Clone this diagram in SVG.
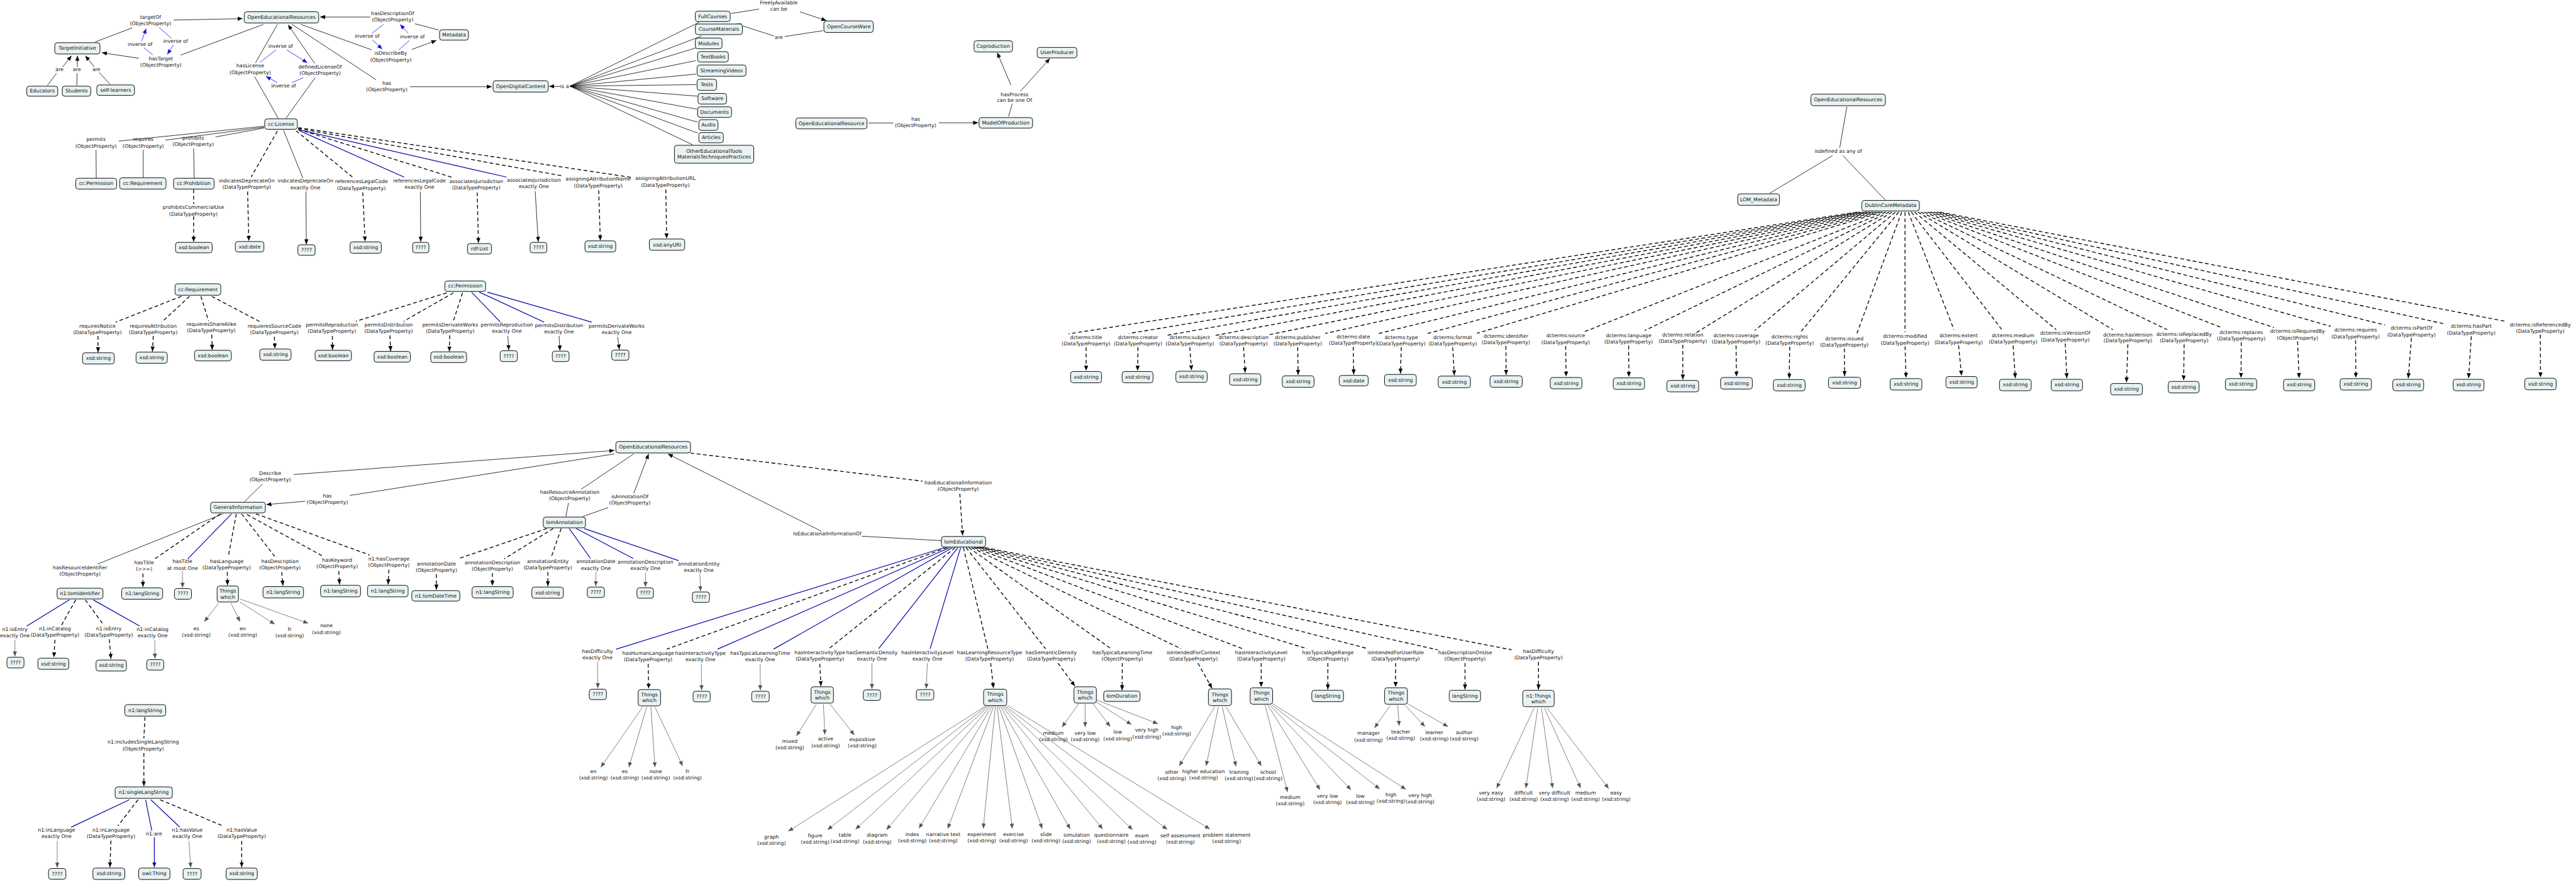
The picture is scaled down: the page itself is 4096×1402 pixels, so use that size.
<svg xmlns="http://www.w3.org/2000/svg" width="4096" height="1402" viewBox="0 0 4096 1402">
<style>
text{font-family:"DejaVu Sans","Liberation Sans",sans-serif;font-size:12px;text-anchor:middle;dominant-baseline:central;fill:#111}
.n rect{fill:#e8f2f2;stroke:#111;stroke-width:1.5}
.s{fill:none;stroke:#000;stroke-width:1.2}
.d{fill:none;stroke:#000;stroke-width:2;stroke-dasharray:9 6}
.u{fill:none;stroke:#0000a8;stroke-width:1.8}
.i{fill:none;stroke:#1414e6;stroke-width:1.2}
.g{fill:none;stroke:#555;stroke-width:1.1}
</style>
<defs>
<marker id="ab" viewBox="0 0 12 10" refX="12" refY="5" markerWidth="12" markerHeight="10" markerUnits="userSpaceOnUse" orient="auto"><path d="M0,0 L12,5 L0,10 z" fill="#000"/></marker>
<marker id="ag" viewBox="0 0 12 10" refX="12" refY="5" markerWidth="12" markerHeight="10" markerUnits="userSpaceOnUse" orient="auto"><path d="M0,0 L12,5 L0,10 z" fill="#555"/></marker>
<marker id="au" viewBox="0 0 12 10" refX="12" refY="5" markerWidth="12" markerHeight="10" markerUnits="userSpaceOnUse" orient="auto"><path d="M0,0 L12,5 L0,10 z" fill="#1414e6"/></marker>
<marker id="ad" viewBox="0 0 12 10" refX="12" refY="5" markerWidth="12" markerHeight="10" markerUnits="userSpaceOnUse" orient="auto"><path d="M0,0 L12,5 L0,10 z" fill="#0000a8"/></marker>
</defs>
<rect width="4096" height="1402" fill="#fff"/>
<g transform="scale(0.665)">
<g id="connectors">
<!-- cluster 1 -->
<path class="s" d="M415,48 L580,44.5" marker-end="url(#ab)"/>
<path class="s" d="M228,100 L316,66.7"/>
<path class="i" d="M365.5,131 L344.4,114.3"/>
<path class="i" d="M338.7,98.3 L349.5,68.3" marker-end="url(#au)"/>
<path class="i" d="M380.8,66 L410,91.7"/>
<path class="i" d="M414.6,107.3 L400,130" marker-end="url(#au)"/>
<path class="s" d="M630,58.3 L432,131.7"/>
<path class="s" d="M332,139.3 L243.6,126" marker-end="url(#ab)"/>
<path class="s" d="M113.5,204 L135.2,175"/>
<path class="s" d="M149.9,160 L171,133.3" marker-end="url(#ab)"/>
<path class="s" d="M183.7,204 L184.3,175"/>
<path class="s" d="M185,160 L185,133.3" marker-end="url(#ab)"/>
<path class="s" d="M263.4,201.7 L237.3,173.3"/>
<path class="s" d="M225.1,159.3 L204,133.3" marker-end="url(#ab)"/>
<path class="s" d="M663.3,58.3 L611,150"/>
<path class="s" d="M609,183.3 L665.2,282.7"/>
<path class="s" d="M752.6,151.7 L688.8,59.3" marker-end="url(#ab)"/>
<path class="s" d="M753.9,185.3 L683.7,282.7"/>
<path class="i" d="M621.9,149 L660,119.3"/>
<path class="i" d="M685.6,119.3 L734.8,150" marker-end="url(#au)"/>
<path class="i" d="M725.2,185.7 L698.4,197.3"/>
<path class="i" d="M663.3,197.3 L635.9,182.7" marker-end="url(#au)"/>
<path class="s" d="M885.3,40.7 L765.4,40.7" marker-end="url(#ab)"/>
<path class="s" d="M991.8,56.7 L1048.8,71.7"/>
<path class="s" d="M719.4,58.3 L888.5,119"/>
<path class="s" d="M985,118 L1043.4,96.7" marker-end="url(#ab)"/>
<path class="i" d="M917.2,58.3 L889.7,79"/>
<path class="i" d="M889.7,95 L914,117.3" marker-end="url(#au)"/>
<path class="i" d="M953.5,119.3 L979,96.7"/>
<path class="i" d="M975.8,79.3 L956.7,58.3" marker-end="url(#au)"/>
<path class="s" d="M698.4,58.3 L899.3,190.7"/>
<path class="s" d="M980.3,207.3 L1176,207.3" marker-end="url(#ab)"/>
<path class="s" d="M1340,206.5 L1313,206.5" marker-end="url(#ab)"/>
<path class="s" d="M1363,206 L1672,53"/>
<path class="s" d="M1363,206 L1677.6,86"/>
<path class="s" d="M1363,206 L1662.5,115"/>
<path class="s" d="M1363,206 L1663.5,145"/>
<path class="s" d="M1363,206 L1664.6,177"/>
<path class="s" d="M1363,206 L1664.6,202.3"/>
<path class="s" d="M1363,206 L1669,230"/>
<path class="s" d="M1363,206 L1667,261"/>
<path class="s" d="M1363,206 L1668,292"/>
<path class="s" d="M1363,206 L1668,318"/>
<path class="s" d="M1363,206 L1656,346"/>
<path class="s" d="M1748,32.3 L1815.3,21.7"/>
<path class="s" d="M1913,28.3 L1975.8,49.3" marker-end="url(#ab)"/>
<path class="s" d="M1968,73.3 L1876,87.3"/>
<path class="s" d="M1851,86 L1760,57" marker-end="url(#ab)"/>
<path class="s" d="M2411.6,278.3 L2420.3,248.3"/>
<path class="s" d="M2417,203.3 L2384.5,126" marker-end="url(#ab)"/>
<path class="s" d="M2439.8,218.3 L2510.3,140" marker-end="url(#ab)"/>
<path class="s" d="M2076.6,294 L2136.3,294"/>
<path class="s" d="M2244.7,293.5 L2339,293.5" marker-end="url(#ab)"/>
<!-- cc:License -->
<path class="s" d="M631.4,301.7 L283.8,337.3"/>
<path class="s" d="M631.4,304 L395.4,335"/>
<path class="s" d="M631.4,306 L515.4,327.3"/>
<path class="s" d="M229.6,358.3 L230.2,426"/>
<path class="s" d="M342.5,358.3 L342.5,425"/>
<path class="s" d="M463,355 L464.3,426"/>
<path class="d" d="M463,453 L463,488"/>
<path class="d" d="M463,517 L463,578" marker-end="url(#ab)"/>
<path class="d" d="M663.3,313.3 L600.8,422.7"/>
<path class="d" d="M592,458 L595,576" marker-end="url(#ab)"/>
<path class="s" d="M678,311.7 L724,425"/>
<path class="s" d="M731.5,458 L732.5,584" marker-end="url(#ab)"/>
<path class="d" d="M708,312.7 L845,425"/>
<path class="d" d="M867.4,460 L873,577" marker-end="url(#ab)"/>
<path class="u" d="M714.3,311.7 L966.3,423.3"/>
<path class="s" d="M1005,458 L1006,578" marker-end="url(#ab)"/>
<path class="d" d="M713,309 L1084.6,425"/>
<path class="d" d="M1141,460 L1144,581" marker-end="url(#ab)"/>
<path class="u" d="M714,310 L1211.4,423.3"/>
<path class="s" d="M1279.7,457 L1287,578" marker-end="url(#ab)"/>
<path class="d" d="M713,307 L1347,420.7"/>
<path class="d" d="M1431.5,455 L1435.5,575" marker-end="url(#ab)"/>
<path class="d" d="M713,305 L1509.6,424"/>
<path class="d" d="M1592,453 L1594,570" marker-end="url(#ab)"/>
<!-- Requirement / Permission -->
<path class="d" d="M433.7,708.3 L276.5,770"/>
<path class="d" d="M234.2,803 L234.5,842" marker-end="url(#ab)"/>
<path class="d" d="M453.2,708.3 L387,770"/>
<path class="d" d="M366.5,803 L364.5,840" marker-end="url(#ab)"/>
<path class="d" d="M480.3,708.3 L498.7,767"/>
<path class="d" d="M506.3,800 L507.5,836" marker-end="url(#ab)"/>
<path class="d" d="M506.3,708.3 L623.4,770"/>
<path class="d" d="M656,805 L657.5,833" marker-end="url(#ab)"/>
<path class="d" d="M1068,700 L851,768"/>
<path class="d" d="M794.7,803 L795,836" marker-end="url(#ab)"/>
<path class="d" d="M1084.2,700 L965,768"/>
<path class="d" d="M932.4,801.7 L934,839" marker-end="url(#ab)"/>
<path class="d" d="M1105.9,700 L1084.2,767"/>
<path class="d" d="M1075.5,801.7 L1074.4,840" marker-end="url(#ab)"/>
<path class="u" d="M1127.6,698.3 L1195.9,769.3"/>
<path class="s" d="M1214.3,803 L1216.5,837" marker-end="url(#ab)"/>
<path class="u" d="M1146,698.3 L1301,770"/>
<path class="s" d="M1336.8,803 L1339,838" marker-end="url(#ab)"/>
<path class="u" d="M1165.5,698.3 L1414.8,770"/>
<path class="s" d="M1476.7,805 L1481,835.5" marker-end="url(#ab)"/>
<!-- Dublin Core -->
<path class="s" d="M4416,255 L4399,353"/>
<path class="s" d="M4381.5,372 L4231.5,462"/>
<path class="s" d="M4406.5,372 L4508,478"/>
<path class="d" d="M4440,507 L2555,798"/>
<path class="d" d="M4447,507 L2700,797"/>
<path class="d" d="M4455,507 L2789,801.7"/>
<path class="d" d="M4463,507 L2906.5,801.7"/>
<path class="d" d="M4470,507 L3035,800"/>
<path class="d" d="M4478,507 L3169,797"/>
<path class="d" d="M4486,507 L3297,797"/>
<path class="d" d="M4494,507 L3414,797"/>
<path class="d" d="M4501,507 L3531.5,796.7"/>
<path class="d" d="M4509,507 L3788,793"/>
<path class="d" d="M4517,507 L3933,790"/>
<path class="d" d="M4524,507 L4056,795"/>
<path class="d" d="M4532,507 L4196,790"/>
<path class="d" d="M4540,507 L4307,792"/>
<path class="d" d="M4547,507 L4440,797"/>
<path class="d" d="M4555,507 L4555,794"/>
<path class="d" d="M4563,507 L4672,788"/>
<path class="d" d="M4570,507 L4786,787"/>
<path class="d" d="M4578,507 L4916.5,788"/>
<path class="d" d="M4586,507 L5052,788"/>
<path class="d" d="M4593,507 L5182,788"/>
<path class="d" d="M4601,507 L5312,783"/>
<path class="d" d="M4609,507 L5437,783"/>
<path class="d" d="M4616,507 L5573,780"/>
<path class="d" d="M4624,507 L5703,777"/>
<path class="d" d="M4632,507 L5844,774"/>
<path class="d" d="M4639,507 L5990,768"/>
<path class="d" d="M2597,830 L2597,886" marker-end="url(#ab)"/>
<path class="d" d="M2721,830 L2720,886" marker-end="url(#ab)"/>
<path class="d" d="M2845,830 L2849,885" marker-end="url(#ab)"/>
<path class="d" d="M2973.4,830 L2977.4,891" marker-end="url(#ab)"/>
<path class="d" d="M3102.9,830 L3104,896" marker-end="url(#ab)"/>
<path class="d" d="M3235.7,829 L3236.8,895" marker-end="url(#ab)"/>
<path class="d" d="M3350.7,830 L3348.5,893" marker-end="url(#ab)"/>
<path class="d" d="M3473.5,830 L3477.4,897" marker-end="url(#ab)"/>
<path class="d" d="M3600.7,827 L3601.3,896" marker-end="url(#ab)"/>
<path class="d" d="M3743.6,827 L3744.7,900" marker-end="url(#ab)"/>
<path class="d" d="M3894.2,826 L3894.8,901" marker-end="url(#ab)"/>
<path class="d" d="M4023.7,824 L4023.7,907" marker-end="url(#ab)"/>
<path class="d" d="M4151,826 L4152,900" marker-end="url(#ab)"/>
<path class="d" d="M4279.3,829 L4278.2,905" marker-end="url(#ab)"/>
<path class="d" d="M4409.9,833 L4410.5,899" marker-end="url(#ab)"/>
<path class="d" d="M4555.2,828 L4557.4,903" marker-end="url(#ab)"/>
<path class="d" d="M4683.2,826 L4690.3,898" marker-end="url(#ab)"/>
<path class="d" d="M4813.4,826 L4818.9,904" marker-end="url(#ab)"/>
<path class="d" d="M4938.2,821 L4942,904" marker-end="url(#ab)"/>
<path class="d" d="M5087.9,823 L5084.6,914" marker-end="url(#ab)"/>
<path class="d" d="M5222.4,823 L5221.3,909" marker-end="url(#ab)"/>
<path class="d" d="M5359,818 L5358.5,903" marker-end="url(#ab)"/>
<path class="d" d="M5493.6,816 L5497.4,904" marker-end="url(#ab)"/>
<path class="d" d="M5632.4,813 L5633,903" marker-end="url(#ab)"/>
<path class="d" d="M5765.9,808 L5758.3,904" marker-end="url(#ab)"/>
<path class="d" d="M5909,804 L5902.5,904" marker-end="url(#ab)"/>
<path class="d" d="M6074,800 L6074.5,902" marker-end="url(#ab)"/>
<!-- bottom cluster -->
<path class="s" d="M702,1134.3 L1469,1076.7" marker-end="url(#ab)"/>
<path class="s" d="M627.6,1156.7 L584.7,1199"/>
<path class="s" d="M1469.4,1085 L836.7,1184.3"/>
<path class="s" d="M729.6,1198.3 L637,1206" marker-end="url(#ab)"/>
<path class="s" d="M1515.3,1085 L1389.8,1169.3"/>
<path class="s" d="M1359.2,1202.3 L1353,1235"/>
<path class="s" d="M1515.3,1179.3 L1551,1085" marker-end="url(#ab)"/>
<path class="s" d="M1392.9,1235 L1454,1213.3"/>
<path class="s" d="M2251,1292.3 L2060.7,1281.7"/>
<path class="s" d="M1964.3,1270 L1597,1085" marker-end="url(#ab)"/>
<path class="d" d="M1651,1083 L2205.4,1150"/>
<path class="d" d="M2295,1180 L2301.8,1280" marker-end="url(#ab)"/>
<path class="s" d="M533.2,1228.3 L233.4,1348.3"/>
<path class="d" d="M526.8,1228.3 L369.9,1336"/>
<path class="d" d="M341.8,1371 L341.8,1403" marker-end="url(#ab)"/>
<path class="u" d="M553.6,1228.3 L449,1336"/>
<path class="g" d="M436.2,1365 L436.5,1405" marker-end="url(#ag)"/>
<path class="d" d="M565,1228.3 L546,1330"/>
<path class="d" d="M543.4,1367.3 L544,1399" marker-end="url(#ab)"/>
<path class="d" d="M577.8,1228.3 L656.9,1330"/>
<path class="d" d="M673.5,1367.3 L676.5,1400" marker-end="url(#ab)"/>
<path class="d" d="M590.6,1230 L771.7,1329.3"/>
<path class="d" d="M810,1365 L812,1397" marker-end="url(#ab)"/>
<path class="d" d="M612.2,1228.3 L884,1326.7"/>
<path class="d" d="M929.8,1361.7 L928,1397" marker-end="url(#ab)"/>
<path class="g" d="M523,1441.7 L488.5,1486" marker-end="url(#ag)"/>
<path class="g" d="M552.3,1441.7 L574,1486" marker-end="url(#ag)"/>
<path class="g" d="M572.7,1438.3 L657,1492" marker-end="url(#ag)"/>
<path class="g" d="M574,1431.7 L737,1490" marker-end="url(#ag)"/>
<path class="u" d="M165.8,1434 L63.8,1496.7"/>
<path class="g" d="M35.7,1529.3 L35.7,1569" marker-end="url(#ag)"/>
<path class="d" d="M181.1,1434 L146.7,1495"/>
<path class="d" d="M131.4,1529.3 L128.8,1571" marker-end="url(#ab)"/>
<path class="d" d="M204,1434 L248.7,1495"/>
<path class="d" d="M261.5,1528.3 L265.3,1575" marker-end="url(#ab)"/>
<path class="u" d="M223.2,1434 L334.2,1496.7"/>
<path class="g" d="M370,1530 L370.5,1574.5" marker-end="url(#ag)"/>
<path class="d" d="M1307.4,1263.3 L1094.4,1336"/>
<path class="d" d="M1043.4,1372.7 L1043.4,1409.5" marker-end="url(#ab)"/>
<path class="d" d="M1322.7,1263.3 L1205.4,1336"/>
<path class="d" d="M1177.3,1370 L1177.3,1400" marker-end="url(#ab)"/>
<path class="d" d="M1341.8,1263.3 L1317.6,1333.3"/>
<path class="d" d="M1310,1367.3 L1310,1401" marker-end="url(#ab)"/>
<path class="u" d="M1361,1263.3 L1412,1335"/>
<path class="g" d="M1424.7,1367.3 L1424.7,1401" marker-end="url(#ag)"/>
<path class="u" d="M1377.5,1263.3 L1514,1335"/>
<path class="g" d="M1543.4,1369.3 L1543.4,1403" marker-end="url(#ag)"/>
<path class="u" d="M1396.7,1263.3 L1622.5,1340"/>
<path class="g" d="M1673.5,1372.7 L1675,1413" marker-end="url(#ag)"/>
<!-- lomEducational -->
<path class="u" d="M2258,1309 L1473.2,1551.7"/>
<path class="d" d="M2264.5,1309 L1594.4,1551.7"/>
<path class="u" d="M2271,1309 L1715.6,1551.7"/>
<path class="u" d="M2277.5,1309 L1849.5,1551.7"/>
<path class="d" d="M2284,1309 L1980.4,1551.7"/>
<path class="u" d="M2290.5,1309 L2100.9,1550.7"/>
<path class="u" d="M2297,1309 L2224,1550.7"/>
<path class="d" d="M2303.5,1309 L2362,1550.7"/>
<path class="d" d="M2310,1309 L2500,1550.7"/>
<path class="d" d="M2316.5,1309 L2656.7,1550.7"/>
<path class="d" d="M2323,1309 L2824,1550.7"/>
<path class="d" d="M2329.5,1309 L2971.4,1550.7"/>
<path class="d" d="M2336,1309 L3125.5,1550.7"/>
<path class="d" d="M2342.5,1309 L3266,1549.3"/>
<path class="d" d="M2349,1309 L3437.5,1553.3"/>
<path class="d" d="M2355.5,1309 L3614.3,1553.3"/>
<path class="g" d="M1428.6,1582 L1429.5,1645" marker-end="url(#ag)"/>
<path class="d" d="M1549.8,1587 L1551,1646" marker-end="url(#ab)"/>
<path class="g" d="M1677,1587 L1677.5,1650" marker-end="url(#ag)"/>
<path class="g" d="M1817.6,1587 L1818,1650" marker-end="url(#ag)"/>
<path class="d" d="M1960.3,1587 L1963,1640" marker-end="url(#ab)"/>
<path class="g" d="M2084.8,1585 L2084.8,1647" marker-end="url(#ag)"/>
<path class="g" d="M2217.4,1585 L2214.7,1646" marker-end="url(#ag)"/>
<path class="d" d="M2368.8,1585 L2375.5,1645" marker-end="url(#ab)"/>
<path class="d" d="M2529.5,1585 L2570,1640" marker-end="url(#ab)"/>
<path class="d" d="M2683.5,1585 L2683,1650" marker-end="url(#ab)"/>
<path class="d" d="M2864.3,1585 L2898,1645" marker-end="url(#ab)"/>
<path class="d" d="M3015.6,1585 L3015.6,1642" marker-end="url(#ab)"/>
<path class="d" d="M3175,1585 L3175,1648" marker-end="url(#ab)"/>
<path class="d" d="M3337,1585 L3337,1642" marker-end="url(#ab)"/>
<path class="d" d="M3503,1585 L3503,1648" marker-end="url(#ab)"/>
<path class="d" d="M3678.6,1582 L3678.6,1648" marker-end="url(#ab)"/>
<path class="g" d="M1536.6,1690 L1436.6,1834" marker-end="url(#ag)"/>
<path class="g" d="M1546.4,1690 L1503.6,1834" marker-end="url(#ag)"/>
<path class="g" d="M1556.3,1690 L1566.1,1834" marker-end="url(#ag)"/>
<path class="g" d="M1566.1,1690 L1632.2,1831" marker-end="url(#ag)"/>
<path class="g" d="M1951.8,1683.3 L1904.5,1759" marker-end="url(#ag)"/>
<path class="g" d="M1968.8,1683.3 L1972.4,1756" marker-end="url(#ag)"/>
<path class="g" d="M1984.8,1683.3 L2042.9,1757" marker-end="url(#ag)"/>
<path class="g" d="M2356,1688 L1884.8,1987" marker-end="url(#ag)"/>
<path class="g" d="M2360,1688 L1978.6,1983.3" marker-end="url(#ag)"/>
<path class="g" d="M2364,1688 L2045.6,1982.3" marker-end="url(#ag)"/>
<path class="g" d="M2368,1688 L2119.7,1983.3" marker-end="url(#ag)"/>
<path class="g" d="M2372,1688 L2197.4,1980" marker-end="url(#ag)"/>
<path class="g" d="M2376,1688 L2266.1,1980.7" marker-end="url(#ag)"/>
<path class="g" d="M2380,1688 L2351,1980.7" marker-end="url(#ag)"/>
<path class="g" d="M2384,1688 L2420.6,1980.7" marker-end="url(#ag)"/>
<path class="g" d="M2388,1688 L2492,1980.7" marker-end="url(#ag)"/>
<path class="g" d="M2392,1688 L2559,1981.7" marker-end="url(#ag)"/>
<path class="g" d="M2396,1688 L2636.7,1981.7" marker-end="url(#ag)"/>
<path class="g" d="M2400,1688 L2708,1983.3" marker-end="url(#ag)"/>
<path class="g" d="M2404,1688 L2791,1982.7" marker-end="url(#ag)"/>
<path class="g" d="M2408,1686 L2892.9,1981.7" marker-end="url(#ag)"/>
<path class="g" d="M2578.6,1683 L2539.4,1738" marker-end="url(#ag)"/>
<path class="g" d="M2594.7,1683 L2594.7,1738" marker-end="url(#ag)"/>
<path class="g" d="M2614.3,1683 L2654.5,1737" marker-end="url(#ag)"/>
<path class="g" d="M2621,1678 L2705.4,1732" marker-end="url(#ag)"/>
<path class="g" d="M2621,1673 L2768.8,1730" marker-end="url(#ag)"/>
<path class="g" d="M2904.5,1689.3 L2819.7,1831" marker-end="url(#ag)"/>
<path class="g" d="M2913.4,1689.3 L2883.9,1831" marker-end="url(#ag)"/>
<path class="g" d="M2922.3,1689.3 L2955.4,1832" marker-end="url(#ag)"/>
<path class="g" d="M2931.3,1689.3 L3016.1,1831" marker-end="url(#ag)"/>
<path class="g" d="M3025,1686 L3078.6,1893" marker-end="url(#ag)"/>
<path class="g" d="M3032,1686 L3156.3,1888" marker-end="url(#ag)"/>
<path class="g" d="M3037,1686 L3230.4,1888" marker-end="url(#ag)"/>
<path class="g" d="M3041,1685 L3299.1,1886" marker-end="url(#ag)"/>
<path class="g" d="M3043,1682 L3361.6,1887" marker-end="url(#ag)"/>
<path class="g" d="M3324.1,1686 L3286.6,1740" marker-end="url(#ag)"/>
<path class="g" d="M3342,1686 L3345.6,1735" marker-end="url(#ag)"/>
<path class="g" d="M3359.9,1686 L3407.2,1737" marker-end="url(#ag)"/>
<path class="g" d="M3365,1681.7 L3462.5,1737" marker-end="url(#ag)"/>
<path class="g" d="M3668,1692.7 L3578.6,1884" marker-end="url(#ag)"/>
<path class="g" d="M3676.9,1692.7 L3648.3,1884" marker-end="url(#ag)"/>
<path class="g" d="M3685.8,1692.7 L3712.5,1884" marker-end="url(#ag)"/>
<path class="g" d="M3692.9,1692.7 L3779.5,1884" marker-end="url(#ag)"/>
<path class="g" d="M3699.2,1692.7 L3846.5,1885" marker-end="url(#ag)"/>
<!-- langString cluster -->
<path class="d" d="M346.6,1714 L344,1765"/>
<path class="d" d="M344,1800 L344,1879" marker-end="url(#ab)"/>
<path class="u" d="M309.3,1911.7 L170,1977.3"/>
<path class="g" d="M136.8,2009.3 L136.8,2074" marker-end="url(#ag)"/>
<path class="d" d="M330,1911.7 L282,1974"/>
<path class="d" d="M265.3,2009.3 L262.8,2073" marker-end="url(#ab)"/>
<path class="u" d="M348.2,1911.7 L363.1,1986"/>
<path class="u" d="M369,2001 L369,2073" marker-end="url(#ad)"/>
<path class="u" d="M360.7,1911.7 L429.5,1976.7"/>
<path class="g" d="M451.9,2010 L456,2074" marker-end="url(#ag)"/>
<path class="d" d="M383,1911.7 L534.8,1975"/>
<path class="d" d="M577.9,2010 L577.9,2073" marker-end="url(#ab)"/>
</g>
<g id="edge-labels">
<text x="360" y="40.7">targetOf<tspan x="360" dy="15">(ObjectProperty)</tspan></text>
<text x="384.6" y="140">hasTarget<tspan x="384.6" dy="14.5">(ObjectProperty)</tspan></text>
<text x="334.8" y="106">inverse of</text>
<text x="419.7" y="99">inverse of</text>
<text x="142.2" y="166.7">are</text>
<text x="183.7" y="166.7">are</text>
<text x="230.2" y="166">are</text>
<text x="598.3" y="157.7">hasLicense<tspan x="598.3" dy="15">(ObjectProperty)</tspan></text>
<text x="765.4" y="160">definedLicenseOf<tspan x="765.4" dy="14.5">(ObjectProperty)</tspan></text>
<text x="671" y="111">inverse of</text>
<text x="678" y="205">inverse of</text>
<text x="938.9" y="32">hasDescriptionOf<tspan x="938.9" dy="14.7">(ObjectProperty)</tspan></text>
<text x="934.4" y="127.7">isDescribeBy<tspan x="934.4" dy="15">(ObjectProperty)</tspan></text>
<text x="878" y="86">inverse of</text>
<text x="986" y="88">inverse of</text>
<text x="924.8" y="199">has<tspan x="924.8" dy="14.5">(ObjectProperty)</tspan></text>
<text x="1350" y="206.7">is a</text>
<text x="1862" y="7">FreelyAvailable<tspan x="1862" dy="14.5">can be</tspan></text>
<text x="1862" y="89.3">are</text>
<text x="2425.7" y="225.7">hasProcess<tspan x="2425.7" dy="14">can be one Of</tspan></text>
<text x="2189.4" y="284.3">has<tspan x="2189.4" dy="14.7">(ObjectProperty)</tspan></text>
<text x="229.6" y="333.7">permits<tspan x="229.6" dy="14.6">(ObjectProperty)</tspan></text>
<text x="342.5" y="333.7">requires<tspan x="342.5" dy="14.6">(ObjectProperty)</tspan></text>
<text x="461.8" y="330">prohibits<tspan x="461.8" dy="14.7">(ObjectProperty)</tspan></text>
<text x="462.4" y="496">prohibitsCommercialUse<tspan x="462.4" dy="14.7">(DataTypeProperty)</tspan></text>
<text x="590" y="432">indicatesDeprecateOn<tspan x="590" dy="14.7">(DataTypeProperty)</tspan></text>
<text x="730.3" y="432.7">indicatesDeprecateOn<tspan x="730.3" dy="15">exactly One</tspan></text>
<text x="864.2" y="434">referencesLegalCode<tspan x="864.2" dy="15">(DataTypeProperty)</tspan></text>
<text x="1003" y="432">referencesLegalCode<tspan x="1003" dy="14.7">exactly One</tspan></text>
<text x="1138.8" y="433.3">associatesJurisdiction<tspan x="1138.8" dy="14.4">(DataTypeProperty)</tspan></text>
<text x="1276.5" y="431">associatesJurisdiction<tspan x="1276.5" dy="14.7">exactly One</tspan></text>
<text x="1430.4" y="428.3">assigningAttributionName<tspan x="1430.4" dy="15">(DataTypeProperty)</tspan></text>
<text x="1590.9" y="426.7">assigningAttributionURL<tspan x="1590.9" dy="15.3">(DataTypeProperty)</tspan></text>
<text x="233.1" y="779">requiresNotice<tspan x="233.1" dy="14.3">(DataTypeProperty)</tspan></text>
<text x="366.5" y="779">requiresAttribution<tspan x="366.5" dy="14.3">(DataTypeProperty)</tspan></text>
<text x="505.2" y="775">requieresShareAlike<tspan x="505.2" dy="15">(DataTypeProperty)</tspan></text>
<text x="656" y="779">requieresSourceCode<tspan x="656" dy="14.3">(DataTypeProperty)</tspan></text>
<text x="793.6" y="776.7">permitsReproduction<tspan x="793.6" dy="15">(DataTypeProperty)</tspan></text>
<text x="929.2" y="776">permitsDistribution<tspan x="929.2" dy="15">(DataTypeProperty)</tspan></text>
<text x="1076.6" y="776">permitsDerivateWorks<tspan x="1076.6" dy="15">(DataTypeProperty)</tspan></text>
<text x="1212" y="776.7">permitsReproduction<tspan x="1212" dy="15">exactly One</tspan></text>
<text x="1336.8" y="777.7">permitsDistribution<tspan x="1336.8" dy="15">exactly One</tspan></text>
<text x="1474.5" y="779">permitsDerivateWorks<tspan x="1474.5" dy="14.3">exactly One</tspan></text>
<text x="4395.6" y="361.7">isdefined as any of</text>
<text x="2597" y="806.7">dcterms:title<tspan x="2597" dy="14.3">(DataTypeProperty)</tspan></text>
<text x="2721" y="806.7">dcterms:creator<tspan x="2721" dy="14.3">(DataTypeProperty)</tspan></text>
<text x="2845" y="806.7">dcterms:subject<tspan x="2845" dy="14">(DataTypeProperty)</tspan></text>
<text x="2973.4" y="806.7">dcterms:description<tspan x="2973.4" dy="14">(DataTypeProperty)</tspan></text>
<text x="3102.9" y="806.7">dcterms:publisher<tspan x="3102.9" dy="14">(DataTypeProperty)</tspan></text>
<text x="3235.7" y="805.7">dcterms:date<tspan x="3235.7" dy="14.3">(DataTypeProperty)</tspan></text>
<text x="3350.7" y="806.7">dcterms:type<tspan x="3350.7" dy="14">(DataTypeProperty)</tspan></text>
<text x="3473.5" y="807.3">dcterms:format<tspan x="3473.5" dy="13.7">(DataTypeProperty)</tspan></text>
<text x="3600.7" y="803.3">dcterms:identifier<tspan x="3600.7" dy="15">(DataTypeProperty)</tspan></text>
<text x="3743.6" y="802.3">dcterms:source<tspan x="3743.6" dy="15.4">(DataTypeProperty)</tspan></text>
<text x="3894.2" y="801.7">dcterms:language<tspan x="3894.2" dy="15">(DataTypeProperty)</tspan></text>
<text x="4023.7" y="800">dcterms:relation<tspan x="4023.7" dy="15">(DataTypeProperty)</tspan></text>
<text x="4151" y="801.7">dcterms:coverage<tspan x="4151" dy="15">(DataTypeProperty)</tspan></text>
<text x="4279.3" y="805">dcterms:rights<tspan x="4279.3" dy="15">(DataTypeProperty)</tspan></text>
<text x="4409.9" y="809.3">dcterms:issued<tspan x="4409.9" dy="14.7">(DataTypeProperty)</tspan></text>
<text x="4555.2" y="804">dcterms:modified<tspan x="4555.2" dy="15.3">(DataTypeProperty)</tspan></text>
<text x="4683.2" y="801.7">dcterms:extent<tspan x="4683.2" dy="15.6">(DataTypeProperty)</tspan></text>
<text x="4813.4" y="801.7">dcterms:medium<tspan x="4813.4" dy="15">(DataTypeProperty)</tspan></text>
<text x="4938.2" y="796.7">dcterms:isVersionOf<tspan x="4938.2" dy="15">(DataTypeProperty)</tspan></text>
<text x="5087.9" y="800">dcterms:hasVersion<tspan x="5087.9" dy="14">(DataTypeProperty)</tspan></text>
<text x="5222.4" y="799">dcterms:isReplacedBy<tspan x="5222.4" dy="15">(DataTypeProperty)</tspan></text>
<text x="5359" y="794.3">dcterms:replaces<tspan x="5359" dy="14.7">(DataTypeProperty)</tspan></text>
<text x="5493.6" y="792.3">dcterms:isRequiredBy<tspan x="5493.6" dy="15">(ObjectProperty)</tspan></text>
<text x="5632.4" y="789.3">dcterms:requires<tspan x="5632.4" dy="14.7">(DataTypeProperty)</tspan></text>
<text x="5765.9" y="784.3">dcterms:isPartOf<tspan x="5765.9" dy="15">(DataTypeProperty)</tspan></text>
<text x="5909" y="780">dcterms:hasPart<tspan x="5909" dy="15">(DataTypeProperty)</tspan></text>
<text x="6074" y="776.7">dcterms:isReferencedBy<tspan x="6074" dy="14.3">(DataTypeProperty)</tspan></text>
<text x="646" y="1131">Describe<tspan x="646" dy="15">(ObjectProperty)</tspan></text>
<text x="782.7" y="1185.7">has<tspan x="782.7" dy="14.3">(ObjectProperty)</tspan></text>
<text x="1362.2" y="1177.3">hasResourceAnnotation<tspan x="1362.2" dy="14.4">(ObjectProperty)</tspan></text>
<text x="1506" y="1187.3">isAnnotationOf<tspan x="1506" dy="14.4">(ObjectProperty)</tspan></text>
<text x="1978" y="1276">IsEducationalInformationOf</text>
<text x="2291" y="1154">hasEducationalInformation<tspan x="2291" dy="15">(ObjectProperty)</tspan></text>
<text x="191.3" y="1356.7">hasResourceIdentifier<tspan x="191.3" dy="14">(ObjectProperty)</tspan></text>
<text x="344.4" y="1345">hasTitle<tspan x="344.4" dy="15">(&gt;&gt;=)</tspan></text>
<text x="436.2" y="1342.7">hasTitle<tspan x="436.2" dy="15">at most One</tspan></text>
<text x="542.1" y="1341.7">hasLanguage<tspan x="542.1" dy="15">(DataTypeProperty)</tspan></text>
<text x="669.6" y="1341.7">hasDescription<tspan x="669.6" dy="15">(ObjectProperty)</tspan></text>
<text x="806.1" y="1339.3">hasKeyword<tspan x="806.1" dy="14.7">(ObjectProperty)</tspan></text>
<text x="929.8" y="1336.7">n1:hasCoverage<tspan x="929.8" dy="14">(ObjectProperty)</tspan></text>
<text x="469.4" y="1503.3">es<tspan x="469.4" dy="14.4">(xsd:string)</tspan></text>
<text x="580.4" y="1503.3">en<tspan x="580.4" dy="14.4">(xsd:string)</tspan></text>
<text x="692.6" y="1504.3">fr<tspan x="692.6" dy="14.4">(xsd:string)</tspan></text>
<text x="780.6" y="1496">none<tspan x="780.6" dy="14.7">(xsd:string)</tspan></text>
<text x="35.7" y="1505">n1:isEntry<tspan x="35.7" dy="14.3">exactly One</tspan></text>
<text x="131.4" y="1503.3">n1:inCatalog<tspan x="131.4" dy="14.4">(DataTypeProperty)</tspan></text>
<text x="260.2" y="1503.3">n1:isEntry<tspan x="260.2" dy="14.4">(DataTypeProperty)</tspan></text>
<text x="364.8" y="1505">n1:inCatalog<tspan x="364.8" dy="14.3">exactly One</tspan></text>
<text x="1043.4" y="1348.3">annotationDate<tspan x="1043.4" dy="14.4">(ObjectProperty)</tspan></text>
<text x="1177.3" y="1345">annotationDescription<tspan x="1177.3" dy="14.3">(ObjectProperty)</tspan></text>
<text x="1310" y="1341.7">annotationEntity<tspan x="1310" dy="15">(DataTypeProperty)</tspan></text>
<text x="1424.7" y="1342.7">annotationDate<tspan x="1424.7" dy="15">exactly One</tspan></text>
<text x="1543.4" y="1343.3">annotationDescription<tspan x="1543.4" dy="14.4">exactly One</tspan></text>
<text x="1671" y="1348.3">annotationEntity<tspan x="1671" dy="14.4">exactly One</tspan></text>
<text x="1428.6" y="1556.7">hasDifficulty<tspan x="1428.6" dy="14">exactly One</tspan></text>
<text x="1549.8" y="1561.7">hasHumanLanguage<tspan x="1549.8" dy="14">(DataTypeProperty)</tspan></text>
<text x="1674.8" y="1561.7">hasInteractivityType<tspan x="1674.8" dy="14">exactly One</tspan></text>
<text x="1817.6" y="1561.7">hasTypicalLearningTime<tspan x="1817.6" dy="14">exactly One</tspan></text>
<text x="1960.3" y="1560">hasInteractivityType<tspan x="1960.3" dy="14.3">(DataTypeProperty)</tspan></text>
<text x="2084.8" y="1560">hasSemanticDensity<tspan x="2084.8" dy="14.3">exactly One</tspan></text>
<text x="2217.4" y="1560">hasInteractivityLevel<tspan x="2217.4" dy="14.3">exactly One</tspan></text>
<text x="2366" y="1560">hasLearningResourceType<tspan x="2366" dy="14.3">(DataTypeProperty)</tspan></text>
<text x="2513.4" y="1560">hasSemanticDensity<tspan x="2513.4" dy="14.3">(DataTypeProperty)</tspan></text>
<text x="2683.5" y="1560">hasTypicalLearningTime<tspan x="2683.5" dy="14.3">(ObjectProperty)</tspan></text>
<text x="2853.6" y="1560">isIntendedForContext<tspan x="2853.6" dy="14.3">(DataTypeProperty)</tspan></text>
<text x="3015.6" y="1560">hasInteractivityLevel<tspan x="3015.6" dy="14.3">(DataTypeProperty)</tspan></text>
<text x="3175" y="1560">hasTypicalAgeRange<tspan x="3175" dy="14.3">(ObjectProperty)</tspan></text>
<text x="3337" y="1560">isIntendedForUserRole<tspan x="3337" dy="14.3">(DataTypeProperty)</tspan></text>
<text x="3503" y="1560">hasDescriptionOnUse<tspan x="3503" dy="14.3">(ObjectProperty)</tspan></text>
<text x="3678.6" y="1556.7">hasDifficulty<tspan x="3678.6" dy="15">(DataTypeProperty)</tspan></text>
<text x="1418.8" y="1844.3">en<tspan x="1418.8" dy="14.7">(xsd:string)</tspan></text>
<text x="1493.8" y="1844.3">es<tspan x="1493.8" dy="14.7">(xsd:string)</tspan></text>
<text x="1567.9" y="1845">none<tspan x="1567.9" dy="14">(xsd:string)</tspan></text>
<text x="1643.8" y="1844.3">fr<tspan x="1643.8" dy="14.7">(xsd:string)</tspan></text>
<text x="1888.4" y="1772.3">mixed<tspan x="1888.4" dy="14.4">(xsd:string)</tspan></text>
<text x="1974.1" y="1766.7">active<tspan x="1974.1" dy="15">(xsd:string)</tspan></text>
<text x="2061.6" y="1767.7">expositive<tspan x="2061.6" dy="14.6">(xsd:string)</tspan></text>
<text x="1844.7" y="2000">graph<tspan x="1844.7" dy="15">(xsd:string)</tspan></text>
<text x="1949.1" y="1998.3">figure<tspan x="1949.1" dy="14.4">(xsd:string)</tspan></text>
<text x="2020.6" y="1996">table<tspan x="2020.6" dy="14.7">(xsd:string)</tspan></text>
<text x="2097.4" y="1996.7">diagram<tspan x="2097.4" dy="15">(xsd:string)</tspan></text>
<text x="2181.3" y="1994">index<tspan x="2181.3" dy="14.3">(xsd:string)</tspan></text>
<text x="2255.4" y="1994">narrative text<tspan x="2255.4" dy="14.3">(xsd:string)</tspan></text>
<text x="2347.4" y="1994">experiment<tspan x="2347.4" dy="14.3">(xsd:string)</tspan></text>
<text x="2423.3" y="1994">exercise<tspan x="2423.3" dy="14.3">(xsd:string)</tspan></text>
<text x="2501" y="1995">slide<tspan x="2501" dy="14.3">(xsd:string)</tspan></text>
<text x="2574.2" y="1996">simulation<tspan x="2574.2" dy="14.7">(xsd:string)</tspan></text>
<text x="2657.2" y="1996">questionnaire<tspan x="2657.2" dy="14.7">(xsd:string)</tspan></text>
<text x="2730.4" y="1997.7">exam<tspan x="2730.4" dy="14.6">(xsd:string)</tspan></text>
<text x="2822.3" y="1997.3">self assessment<tspan x="2822.3" dy="14.4">(xsd:string)</tspan></text>
<text x="2933" y="1996">problem statement<tspan x="2933" dy="15">(xsd:string)</tspan></text>
<text x="2518.8" y="1752.3">medium<tspan x="2518.8" dy="14.4">(xsd:string)</tspan></text>
<text x="2594.7" y="1752.3">very low<tspan x="2594.7" dy="14.4">(xsd:string)</tspan></text>
<text x="2672.4" y="1750">low<tspan x="2672.4" dy="15">(xsd:string)</tspan></text>
<text x="2742" y="1745.7">very high<tspan x="2742" dy="15">(xsd:string)</tspan></text>
<text x="2813.4" y="1739.3">high<tspan x="2813.4" dy="14">(xsd:string)</tspan></text>
<text x="2801.8" y="1846">other<tspan x="2801.8" dy="14.7">(xsd:string)</tspan></text>
<text x="2877.7" y="1845">higher education<tspan x="2877.7" dy="14.3">(xsd:string)</tspan></text>
<text x="2962.5" y="1846">training<tspan x="2962.5" dy="14.7">(xsd:string)</tspan></text>
<text x="3032.2" y="1846">school<tspan x="3032.2" dy="14.7">(xsd:string)</tspan></text>
<text x="3084.8" y="1906">medium<tspan x="3084.8" dy="14.7">(xsd:string)</tspan></text>
<text x="3174.1" y="1903.3">very low<tspan x="3174.1" dy="14.4">(xsd:string)</tspan></text>
<text x="3252.7" y="1903.3">low<tspan x="3252.7" dy="14.4">(xsd:string)</tspan></text>
<text x="3325.9" y="1900">high<tspan x="3325.9" dy="15">(xsd:string)</tspan></text>
<text x="3395.6" y="1901">very high<tspan x="3395.6" dy="14.7">(xsd:string)</tspan></text>
<text x="3272.3" y="1753.3">manager<tspan x="3272.3" dy="14.4">(xsd:string)</tspan></text>
<text x="3349.1" y="1750">teacher<tspan x="3349.1" dy="14.3">(xsd:string)</tspan></text>
<text x="3429.5" y="1751">learner<tspan x="3429.5" dy="14.7">(xsd:string)</tspan></text>
<text x="3501" y="1751">author<tspan x="3501" dy="14.7">(xsd:string)</tspan></text>
<text x="3565.2" y="1895">very easy<tspan x="3565.2" dy="14.3">(xsd:string)</tspan></text>
<text x="3642.9" y="1895.7">difficult<tspan x="3642.9" dy="14.3">(xsd:string)</tspan></text>
<text x="3717" y="1895.7">very difficult<tspan x="3717" dy="14.3">(xsd:string)</tspan></text>
<text x="3791.1" y="1895.7">medium<tspan x="3791.1" dy="14.3">(xsd:string)</tspan></text>
<text x="3864.3" y="1895">easy<tspan x="3864.3" dy="14.3">(xsd:string)</tspan></text>
<text x="342.4" y="1774.3">n1:includesSingleLangString<tspan x="342.4" dy="14.7">(ObjectProperty)</tspan></text>
<text x="135.1" y="1984.3">n1:inLanguage<tspan x="135.1" dy="14.7">exactly One</tspan></text>
<text x="265.3" y="1984.3">n1:inLanguage<tspan x="265.3" dy="14.7">(DataTypeProperty)</tspan></text>
<text x="368.1" y="1993.3">n1:are</text>
<text x="447.7" y="1984.3">n1:hasValue<tspan x="447.7" dy="14.7">exactly One</tspan></text>
<text x="577.9" y="1984.3">n1:hasValue<tspan x="577.9" dy="14.7">(DataTypeProperty)</tspan></text>
</g>
<!-- nodes: cluster 1 -->
<g id="n-oer1" class="n"><rect x="584" y="28" width="178" height="27" rx="6"/><text x="673" y="41.7">OpenEducationalResources</text></g>
<g id="n-targetinitiative" class="n"><rect x="131" y="102" width="108" height="27" rx="6"/><text x="185" y="115.5">TargetInitiative</text></g>
<g id="n-educators" class="n"><rect x="64" y="206" width="74" height="24" rx="6"/><text x="101" y="218">Educators</text></g>
<g id="n-students" class="n"><rect x="149" y="206" width="68" height="24" rx="6"/><text x="183" y="218">Students</text></g>
<g id="n-selflearners" class="n"><rect x="231.5" y="203" width="90" height="25" rx="6"/><text x="276.5" y="215.5">self-learners</text></g>
<g id="n-cclicense" class="n"><rect x="633" y="284" width="78" height="25" rx="6"/><text x="672" y="296.8">cc:License</text></g>
<g id="n-ccpermission1" class="n"><rect x="181" y="426" width="98" height="26" rx="6"/><text x="230" y="439">cc:Permission</text></g>
<g id="n-ccrequirement1" class="n"><rect x="286" y="425" width="111" height="27" rx="6"/><text x="341.5" y="438.8">cc:Requirement</text></g>
<g id="n-ccprohibition" class="n"><rect x="415" y="426" width="97" height="26" rx="6"/><text x="463.4" y="439">cc:Prohibition</text></g>
<g id="n-metadata" class="n"><rect x="1051" y="71" width="69" height="25" rx="6"/><text x="1085.7" y="83.7">Metadata</text></g>
<g id="n-opendigitalcontent" class="n"><rect x="1179" y="193" width="132" height="27" rx="6"/><text x="1245" y="206.5">OpenDigitalContent</text></g>
<g id="n-fullcourses" class="n"><rect x="1662.5" y="26.7" width="83.5" height="25" rx="6"/><text x="1704" y="39.2">FullCourses</text></g>
<g id="n-coursematerials" class="n"><rect x="1662.5" y="57.3" width="112.7" height="25.4" rx="6"/><text x="1719" y="70">CourseMaterials</text></g>
<g id="n-modules" class="n"><rect x="1662.5" y="91" width="64" height="25.7" rx="6"/><text x="1694.5" y="103.8">Modules</text></g>
<g id="n-textbooks" class="n"><rect x="1668" y="123.3" width="73.6" height="25" rx="6"/><text x="1704.8" y="135.8">TextBooks</text></g>
<g id="n-streamingvideos" class="n"><rect x="1666.8" y="155.3" width="117" height="27" rx="6"/><text x="1725.3" y="168.8">StreamingVideos</text></g>
<g id="n-tests" class="n"><rect x="1666.8" y="189.3" width="46.6" height="26.7" rx="6"/><text x="1690" y="202.7">Tests</text></g>
<g id="n-software" class="n"><rect x="1669" y="223.3" width="68.3" height="25.4" rx="6"/><text x="1703" y="236">Software</text></g>
<g id="n-documents" class="n"><rect x="1668" y="255.3" width="81.3" height="25.4" rx="6"/><text x="1708.5" y="268">Documents</text></g>
<g id="n-audio" class="n"><rect x="1671" y="286" width="45.7" height="25.7" rx="6"/><text x="1694" y="298.8">Audio</text></g>
<g id="n-articles" class="n"><rect x="1671" y="316.7" width="58.6" height="24.6" rx="6"/><text x="1700.4" y="329">Articles</text></g>
<g id="n-othertools" class="n"><rect x="1612.6" y="347.3" width="189.7" height="42.7" rx="6"/><text x="1707.5" y="361">OtherEducationalTools</text><text x="1707.5" y="375.7">MaterialsTechniquesPractices</text></g>
<g id="n-opencourseware" class="n"><rect x="1970" y="50" width="118" height="27.5" rx="6"/><text x="2029.5" y="64">OpenCourseWare</text></g>
<g id="n-coproduction" class="n"><rect x="2329" y="97.3" width="92" height="27" rx="6"/><text x="2375" y="110.8">Coproduction</text></g>
<g id="n-userproducer" class="n"><rect x="2480" y="113.3" width="95" height="25" rx="6"/><text x="2527.7" y="125.8">UserProducer</text></g>
<g id="n-oer-single" class="n"><rect x="1903" y="282" width="170" height="26" rx="6"/><text x="1988" y="295">OpenEducationalResource</text></g>
<g id="n-modelofproduction" class="n"><rect x="2341" y="281" width="128" height="25.3" rx="6"/><text x="2405" y="293.7">ModelOfProduction</text></g>
<!-- license leaves -->
<g id="n-lic-boolean" class="n"><rect x="419.6" y="579.3" width="87.8" height="25" rx="6"/><text x="463.5" y="592">xsd:boolean</text></g>
<g id="n-lic-date" class="n"><rect x="562.7" y="577.3" width="68.3" height="25" rx="6"/><text x="597" y="590">xsd:date</text></g>
<g id="n-lic-q1" class="n"><rect x="712.3" y="585" width="41.2" height="25.3" rx="6"/><text x="733" y="597.7">????</text></g>
<g id="n-lic-string1" class="n"><rect x="837" y="578.3" width="74.8" height="27" rx="6"/><text x="874.4" y="591.8">xsd:string</text></g>
<g id="n-lic-q2" class="n"><rect x="986.6" y="579.3" width="39" height="25" rx="6"/><text x="1006" y="592">????</text></g>
<g id="n-lic-rdflist" class="n"><rect x="1117.8" y="582.3" width="57.5" height="25" rx="6"/><text x="1146.5" y="594.8">rdf:List</text></g>
<g id="n-lic-q3" class="n"><rect x="1267.5" y="579.3" width="40" height="25" rx="6"/><text x="1287.5" y="592">????</text></g>
<g id="n-lic-string2" class="n"><rect x="1398.6" y="575.7" width="73.7" height="26.6" rx="6"/><text x="1435.5" y="589">xsd:string</text></g>
<g id="n-lic-anyuri" class="n"><rect x="1552.6" y="571.3" width="84.6" height="27" rx="6"/><text x="1595" y="585">xsd:anyURI</text></g>
<!-- requirement / permission -->
<g id="n-ccrequirement2" class="n"><rect x="418.5" y="678.3" width="109.5" height="27.4" rx="6"/><text x="473.2" y="692">cc:Requirement</text></g>
<g id="n-ccpermission2" class="n"><rect x="1063.6" y="671.7" width="97.6" height="25" rx="6"/><text x="1112.4" y="684.2">cc:Permission</text></g>
<g id="n-req-s1" class="n"><rect x="197.3" y="843.3" width="75.9" height="26.7" rx="6"/><text x="235.3" y="856.7">xsd:string</text></g>
<g id="n-req-s2" class="n"><rect x="325.3" y="841.7" width="74.7" height="26.6" rx="6"/><text x="362.7" y="855">xsd:string</text></g>
<g id="n-req-b1" class="n"><rect x="465.1" y="837.3" width="87.9" height="25.4" rx="6"/><text x="509" y="850">xsd:boolean</text></g>
<g id="n-req-s3" class="n"><rect x="621.2" y="834.3" width="74.8" height="26.7" rx="6"/><text x="658.6" y="847.7">xsd:string</text></g>
<g id="n-per-b1" class="n"><rect x="753.5" y="837.3" width="86.8" height="25" rx="6"/><text x="797" y="849.8">xsd:boolean</text></g>
<g id="n-per-b2" class="n"><rect x="894.5" y="840" width="86.7" height="25.7" rx="6"/><text x="937.9" y="852.8">xsd:boolean</text></g>
<g id="n-per-b3" class="n"><rect x="1030" y="841" width="85.6" height="25.7" rx="6"/><text x="1072.8" y="853.8">xsd:boolean</text></g>
<g id="n-per-q1" class="n"><rect x="1195.9" y="838.3" width="41.1" height="26" rx="6"/><text x="1216.5" y="851.3">????</text></g>
<g id="n-per-q2" class="n"><rect x="1320.6" y="839.3" width="40.1" height="25" rx="6"/><text x="1340.7" y="851.8">????</text></g>
<g id="n-per-q3" class="n"><rect x="1462.6" y="836.7" width="41.2" height="24.3" rx="6"/><text x="1483.2" y="848.8">????</text></g>
<!-- Dublin Core -->
<g id="n-oer3" class="n"><rect x="4330" y="225" width="178" height="27.7" rx="6"/><text x="4419" y="238.8">OpenEducationalResources</text></g>
<g id="n-lom-metadata" class="n"><rect x="4155" y="463.3" width="100" height="27.4" rx="6"/><text x="4205" y="477">LOM_Metadata</text></g>
<g id="n-dublincore" class="n"><rect x="4451.8" y="479" width="137.6" height="25.3" rx="6"/><text x="4520.6" y="491.7">DublinCoreMetadata</text></g>
<g id="n-dc-1" class="n"><rect x="2560" y="888" width="74" height="27" rx="6"/><text x="2597" y="901.5">xsd:string</text></g>
<g id="n-dc-2" class="n"><rect x="2683" y="888" width="74" height="27" rx="6"/><text x="2720" y="901.5">xsd:string</text></g>
<g id="n-dc-3" class="n"><rect x="2811.6" y="887.3" width="74.8" height="26.7" rx="6"/><text x="2849" y="900.7">xsd:string</text></g>
<g id="n-dc-4" class="n"><rect x="2940" y="893.3" width="74.7" height="27.4" rx="6"/><text x="2977.4" y="907">xsd:string</text></g>
<g id="n-dc-5" class="n"><rect x="3066" y="898.3" width="76" height="27.4" rx="6"/><text x="3104" y="912">xsd:string</text></g>
<g id="n-dc-6" class="n"><rect x="3202.2" y="897.3" width="69.2" height="25" rx="6"/><text x="3236.8" y="909.8">xsd:date</text></g>
<g id="n-dc-7" class="n"><rect x="3310.5" y="895" width="75.9" height="27.3" rx="6"/><text x="3348.5" y="908.7">xsd:string</text></g>
<g id="n-dc-8" class="n"><rect x="3438.9" y="899" width="77" height="27.7" rx="6"/><text x="3477.4" y="912.8">xsd:string</text></g>
<g id="n-dc-9" class="n"><rect x="3562.7" y="898.3" width="77.1" height="27.4" rx="6"/><text x="3601.3" y="912">xsd:string</text></g>
<g id="n-dc-10" class="n"><rect x="3706.7" y="902.3" width="75.9" height="27" rx="6"/><text x="3744.7" y="915.8">xsd:string</text></g>
<g id="n-dc-11" class="n"><rect x="3857.4" y="903.3" width="74.8" height="27.4" rx="6"/><text x="3894.8" y="917">xsd:string</text></g>
<g id="n-dc-12" class="n"><rect x="3985.7" y="909.3" width="75.9" height="27.4" rx="6"/><text x="4023.7" y="923">xsd:string</text></g>
<g id="n-dc-13" class="n"><rect x="4114" y="902.3" width="76" height="27.7" rx="6"/><text x="4152" y="916.2">xsd:string</text></g>
<g id="n-dc-14" class="n"><rect x="4240.2" y="907.3" width="75.9" height="27" rx="6"/><text x="4278.2" y="920.8">xsd:string</text></g>
<g id="n-dc-15" class="n"><rect x="4372" y="901.7" width="77" height="26.6" rx="6"/><text x="4410.5" y="915">xsd:string</text></g>
<g id="n-dc-16" class="n"><rect x="4519.4" y="905" width="76" height="27.3" rx="6"/><text x="4557.4" y="918.7">xsd:string</text></g>
<g id="n-dc-17" class="n"><rect x="4652.9" y="900" width="74.8" height="27.3" rx="6"/><text x="4690.3" y="913.7">xsd:string</text></g>
<g id="n-dc-18" class="n"><rect x="4780.9" y="906.7" width="75.9" height="27.3" rx="6"/><text x="4818.9" y="920.3">xsd:string</text></g>
<g id="n-dc-19" class="n"><rect x="4904.5" y="906.7" width="74.9" height="27.3" rx="6"/><text x="4942" y="920.3">xsd:string</text></g>
<g id="n-dc-20" class="n"><rect x="5046.6" y="916.7" width="76" height="27.3" rx="6"/><text x="5084.6" y="930.3">xsd:string</text></g>
<g id="n-dc-21" class="n"><rect x="5184.4" y="911.7" width="73.8" height="27.6" rx="6"/><text x="5221.3" y="925.5">xsd:string</text></g>
<g id="n-dc-22" class="n"><rect x="5321.1" y="905" width="74.9" height="27.3" rx="6"/><text x="5358.5" y="918.7">xsd:string</text></g>
<g id="n-dc-23" class="n"><rect x="5460" y="906.7" width="74.8" height="27.3" rx="6"/><text x="5497.4" y="920.3">xsd:string</text></g>
<g id="n-dc-24" class="n"><rect x="5595.5" y="905" width="74.9" height="27.3" rx="6"/><text x="5633" y="918.7">xsd:string</text></g>
<g id="n-dc-25" class="n"><rect x="5721.4" y="906.7" width="73.8" height="27.3" rx="6"/><text x="5758.3" y="920.3">xsd:string</text></g>
<g id="n-dc-26" class="n"><rect x="5865.7" y="906.7" width="73.7" height="27.3" rx="6"/><text x="5902.5" y="920.3">xsd:string</text></g>
<g id="n-dc-27" class="n"><rect x="6037" y="904" width="75" height="27.7" rx="6"/><text x="6074.5" y="917.8">xsd:string</text></g>
<!-- bottom cluster -->
<g id="n-oer2" class="n"><rect x="1472.5" y="1055.3" width="178.6" height="27.4" rx="6"/><text x="1562" y="1069">OpenEducationalResources</text></g>
<g id="n-generalinformation" class="n"><rect x="503.5" y="1200.5" width="131" height="25.5" rx="6"/><text x="568.8" y="1213">GeneralInformation</text></g>
<g id="n-lomannotation" class="n"><rect x="1299" y="1236" width="101" height="25.7" rx="6"/><text x="1349.5" y="1248.8">lomAnnotation</text></g>
<g id="n-lomeducational" class="n"><rect x="2251" y="1282.3" width="105.7" height="25.4" rx="6"/><text x="2303.8" y="1295">lomEducational</text></g>
<g id="n-lomidentifier" class="n"><rect x="136.5" y="1406" width="109.7" height="25.7" rx="6"/><text x="191.3" y="1418.8">n1:lomIdentifier</text></g>
<g id="n-gi-ls1" class="n"><rect x="290.8" y="1405.3" width="98.2" height="27" rx="6"/><text x="340" y="1418.8">n1:langString</text></g>
<g id="n-gi-q1" class="n"><rect x="417.1" y="1406.7" width="40.8" height="25.6" rx="6"/><text x="437.5" y="1419.5">????</text></g>
<g id="n-gi-things" class="n"><rect x="519.1" y="1400.7" width="51.1" height="38.3" rx="6"/><text x="544.6" y="1413.3">Things</text><text x="544.6" y="1427.7">which</text></g>
<g id="n-gi-ls2" class="n"><rect x="628.8" y="1402.3" width="97" height="27" rx="6"/><text x="677.3" y="1415.8">n1:langString</text></g>
<g id="n-gi-ls3" class="n"><rect x="766.6" y="1399" width="95.6" height="27.7" rx="6"/><text x="814.4" y="1412.8">n1:langString</text></g>
<g id="n-gi-ls4" class="n"><rect x="878.8" y="1399" width="97" height="27.7" rx="6"/><text x="927.3" y="1412.8">n1:langString</text></g>
<g id="n-id-q1" class="n"><rect x="16.6" y="1571" width="40.8" height="25.7" rx="6"/><text x="37" y="1583.8">????</text></g>
<g id="n-id-s1" class="n"><rect x="90.6" y="1573.3" width="73.9" height="26.7" rx="6"/><text x="127.5" y="1586.7">xsd:string</text></g>
<g id="n-id-s2" class="n"><rect x="229.6" y="1577.7" width="72.7" height="26.3" rx="6"/><text x="266" y="1590.8">xsd:string</text></g>
<g id="n-id-q2" class="n"><rect x="350.8" y="1576.7" width="40.8" height="25" rx="6"/><text x="371.2" y="1589.2">????</text></g>
<g id="n-an-datetime" class="n"><rect x="984.7" y="1411.7" width="114.8" height="25" rx="6"/><text x="1042" y="1424.2">n1:lomDateTime</text></g>
<g id="n-an-ls" class="n"><rect x="1128.8" y="1402.3" width="98.2" height="27" rx="6"/><text x="1178" y="1415.8">n1:langString</text></g>
<g id="n-an-s" class="n"><rect x="1271.7" y="1403.3" width="75.3" height="26.7" rx="6"/><text x="1309.4" y="1416.7">xsd:string</text></g>
<g id="n-an-q1" class="n"><rect x="1404.3" y="1403.3" width="40.9" height="25" rx="6"/><text x="1424.7" y="1415.8">????</text></g>
<g id="n-an-q2" class="n"><rect x="1523" y="1405" width="39.5" height="25" rx="6"/><text x="1542.7" y="1417.5">????</text></g>
<g id="n-an-q3" class="n"><rect x="1655.6" y="1415" width="40.8" height="25" rx="6"/><text x="1676" y="1427.5">????</text></g>
<g id="n-ed-q1" class="n"><rect x="1408.9" y="1647.3" width="41.1" height="25" rx="6"/><text x="1429.5" y="1659.8">????</text></g>
<g id="n-ed-things1" class="n"><rect x="1525.9" y="1648.3" width="53.6" height="39" rx="6"/><text x="1552.7" y="1661">Things</text><text x="1552.7" y="1675">which</text></g>
<g id="n-ed-q2" class="n"><rect x="1657.2" y="1652.3" width="41" height="25.4" rx="6"/><text x="1677.7" y="1665">????</text></g>
<g id="n-ed-q3" class="n"><rect x="1797.3" y="1652.3" width="42" height="25.4" rx="6"/><text x="1818.3" y="1665">????</text></g>
<g id="n-ed-things2" class="n"><rect x="1939.3" y="1641.7" width="53.6" height="39" rx="6"/><text x="1966.1" y="1654.3">Things</text><text x="1966.1" y="1668.7">which</text></g>
<g id="n-ed-q4" class="n"><rect x="2064.3" y="1649" width="41.1" height="25.3" rx="6"/><text x="2084.9" y="1661.7">????</text></g>
<g id="n-ed-q5" class="n"><rect x="2191" y="1648.3" width="42" height="25" rx="6"/><text x="2212" y="1660.8">????</text></g>
<g id="n-ed-things3" class="n"><rect x="2351.8" y="1647.3" width="55.4" height="39.4" rx="6"/><text x="2379.5" y="1660">Things</text><text x="2379.5" y="1674.3">which</text></g>
<g id="n-ed-things4" class="n"><rect x="2567.9" y="1641.7" width="53.6" height="39" rx="6"/><text x="2594.7" y="1654.3">Things</text><text x="2594.7" y="1668.7">which</text></g>
<g id="n-ed-duration" class="n"><rect x="2639" y="1651.7" width="87" height="25" rx="6"/><text x="2682.5" y="1664.2">lomDuration</text></g>
<g id="n-ed-things5" class="n"><rect x="2889.3" y="1646.7" width="55.3" height="40" rx="6"/><text x="2917" y="1660.3">Things</text><text x="2917" y="1674.7">which</text></g>
<g id="n-ed-things6" class="n"><rect x="2989.3" y="1644" width="53.6" height="39.3" rx="6"/><text x="3016.1" y="1657">Things</text><text x="3016.1" y="1671.3">which</text></g>
<g id="n-ed-ls1" class="n"><rect x="3136.6" y="1650" width="75.9" height="27.3" rx="6"/><text x="3174.5" y="1663.7">langString</text></g>
<g id="n-ed-things7" class="n"><rect x="3310.7" y="1644" width="54.5" height="39.3" rx="6"/><text x="3338" y="1657">Things</text><text x="3338" y="1671.3">which</text></g>
<g id="n-ed-ls2" class="n"><rect x="3465.2" y="1650" width="75" height="27.3" rx="6"/><text x="3502.7" y="1663.7">langString</text></g>
<g id="n-ed-things8" class="n"><rect x="3641.1" y="1650" width="75" height="39.3" rx="6"/><text x="3678.6" y="1663.3">n1:Things</text><text x="3678.6" y="1677.7">which</text></g>
<!-- langString cluster -->
<g id="n-n1langstring" class="n"><rect x="298.5" y="1684.3" width="97.8" height="27.4" rx="6"/><text x="347.4" y="1698">n1:langString</text></g>
<g id="n-singlelangstring" class="n"><rect x="275.3" y="1881" width="136.8" height="27.3" rx="6"/><text x="343.6" y="1894.7">n1:singleLangString</text></g>
<g id="n-sl-q1" class="n"><rect x="116" y="2076" width="41.5" height="25.7" rx="6"/><text x="136.8" y="2088.8">????</text></g>
<g id="n-sl-s1" class="n"><rect x="222.2" y="2075" width="76.3" height="27.3" rx="6"/><text x="260.4" y="2088.7">xsd:string</text></g>
<g id="n-sl-owlthing" class="n"><rect x="331.6" y="2075" width="74.7" height="27.3" rx="6"/><text x="369" y="2088.7">owl:Thing</text></g>
<g id="n-sl-q2" class="n"><rect x="437.8" y="2076" width="43.1" height="25.7" rx="6"/><text x="459.3" y="2088.8">????</text></g>
<g id="n-sl-s2" class="n"><rect x="540.6" y="2075" width="74.6" height="27.3" rx="6"/><text x="577.9" y="2088.7">xsd:string</text></g>
</g>
</svg>
